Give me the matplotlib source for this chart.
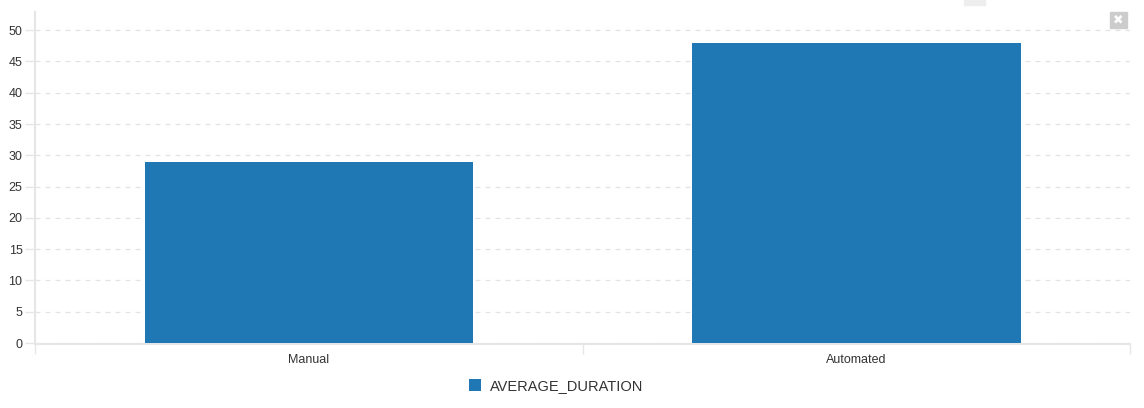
import matplotlib
matplotlib.use("Agg")
import matplotlib.pyplot as plt
import numpy as np

plt.rcParams['font.family'] = ['Liberation Sans', 'DejaVu Sans']

# data
categories = ['Manual', 'Automated']
avg_duration = [29, 48]
series_name = 'AVERAGE_DURATION'
yticks = list(range(0, 55, 5))

W, H = 1144, 408
fig = plt.figure(figsize=(W / 100, H / 100), dpi=100)
# axes placed in pixel coords: left 35, right 1130, top 12, bottom 343
ax = fig.add_axes([35 / W, 1 - 343 / H, (1130 - 35) / W, (343 - 12) / H])

x = np.arange(len(categories))
ax.bar(x, avg_duration, width=0.6, color='#1f77b4', zorder=3, label=series_name)

ax.set_xlim(-0.5, len(categories) - 0.5)
ax.set_ylim(0, 52.9)

# y axis
ax.set_yticks(yticks)
ax.set_yticklabels([str(t) for t in yticks], fontsize=9, color='#333333')
ax.tick_params(axis='y', length=7, width=1, color='#e6e6e6', pad=2)
ax.grid(axis='y', color='#e3e3e3', linestyle=(0, (4, 4)), linewidth=0.9, zorder=0)

# x axis: ticks at band boundaries, labels centered under bars
ax.set_xticks(np.arange(len(categories) + 1) - 0.5)
ax.set_xticklabels([])
ax.tick_params(axis='x', length=7, width=1, color='#e6e6e6', direction='out')
for i, c in enumerate(categories):
    ax.text(i, -0.032, c, transform=ax.get_xaxis_transform(), ha='center', va='top',
            fontsize=9, color='#333333')

for s in ['top', 'right']:
    ax.spines[s].set_visible(False)
for s in ['left', 'bottom']:
    ax.spines[s].set_color('#e6e6e6')
    ax.spines[s].set_linewidth(1.5)
ax.spines['bottom'].set_position(('outward', 1))

# legend
fig.legend(loc='center', bbox_to_anchor=(556 / W, 1 - 386 / H), frameon=False,
           fontsize=10.5, handlelength=0.85, handleheight=0.85, handletextpad=0.6,
           labelcolor='#333333')

# close icon at top right
fig.patches.append(plt.Rectangle((1110 / W, 1 - 28 / H), 17 / W, 16 / H,
                                 transform=fig.transFigure, color='#cccccc'))
fig.text(1118.5 / W, 1 - 20 / H, '\u2716', ha='center', va='center', color='white',
         fontsize=9, family='DejaVu Sans')
fig.patches.append(plt.Rectangle((964 / W, 1 - 5 / H), 21 / W, 5 / H,
                                 transform=fig.transFigure, color='#eeeeee'))

fig.savefig('out.png', dpi=100)
